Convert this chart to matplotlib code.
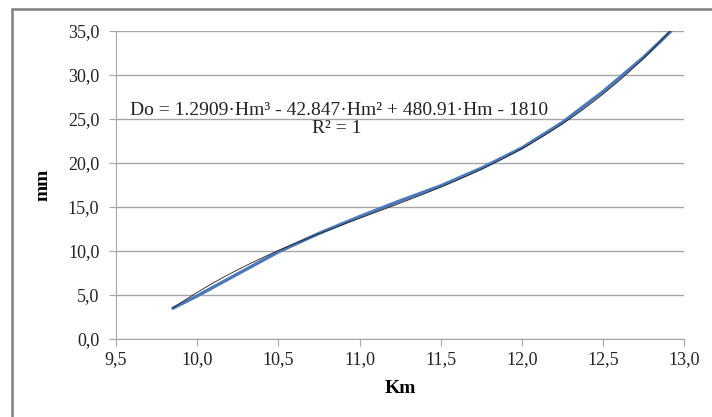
import numpy as np
import matplotlib
matplotlib.use("Agg")
import matplotlib.pyplot as plt
from matplotlib.patches import Rectangle

plt.rcParams['font.family'] = ['Liberation Serif', 'DejaVu Serif']

# measured data (Km vs mm)
km = [9.85, 10.0, 10.25, 10.5, 10.75, 11.0, 11.25, 11.5, 11.75, 12.0, 12.25, 12.5, 12.75, 12.92]
mm = [3.5, 4.9, 7.4, 9.9, 12.0, 13.9, 15.7, 17.4, 19.4, 21.7, 24.6, 28.1, 32.0, 35.0]

# trendline coefficients
coef = [1.2909, -42.847, 480.91, -1810]
eq_text = "Do = 1.2909·Hm³ - 42.847·Hm² + 480.91·Hm - 1810"
r2_text = "R² = 1"

xticks = [9.5, 10.0, 10.5, 11.0, 11.5, 12.0, 12.5, 13.0]
yticks = [0, 5, 10, 15, 20, 25, 30, 35]

fig = plt.figure(figsize=(7.12, 4.17), dpi=100)
ax = fig.add_axes([0.163, 0.187, 0.798, 0.739])

# outer chart border
fig.patches.append(Rectangle((12 / 712, -0.05), 1.0, 1 - 9 / 417 + 0.05,
                             transform=fig.transFigure, fill=False,
                             edgecolor='#7f7f7f', lw=1.8))

ax.plot(km, mm, color='#4a78b8', lw=2.4, solid_capstyle='round', zorder=3)
xf = np.linspace(km[0], km[-1], 200)
ax.plot(xf, np.polyval(coef, xf), color='#202020', lw=0.6, zorder=4)

ax.set_xlim(9.5, 13.0)
ax.set_ylim(0, 35)
ax.set_xticks(xticks)
ax.set_yticks(yticks)
ax.set_xticklabels([f"{v:.1f}".replace('.', ',') for v in xticks], fontsize=13)
ax.set_yticklabels([f"{v:.1f}".replace('.', ',') for v in yticks], fontsize=13)
ax.yaxis.grid(True, color='#a6a6a6', lw=1.0)
ax.set_axisbelow(True)
for s in ['top', 'right']:
    ax.spines[s].set_visible(False)
for s in ['left', 'bottom']:
    ax.spines[s].set_color('#a6a6a6')
ax.tick_params(axis='both', colors='#a6a6a6', labelcolor='#222222', length=5, direction='out')
ax.tick_params(axis='y', pad=7)
ax.tick_params(axis='x', pad=4)

ax.set_xlabel("Km", fontsize=14, fontweight='bold', labelpad=8)
ax.set_ylabel("mm", fontsize=14, fontweight='bold', labelpad=12)

ax.text(10.874, 25.9, eq_text, fontsize=14, ha='center', va='center', color='#222222')
ax.text(10.86, 23.9, r2_text, fontsize=14, ha='center', va='center', color='#222222')

fig.savefig("out.png", dpi=100)
